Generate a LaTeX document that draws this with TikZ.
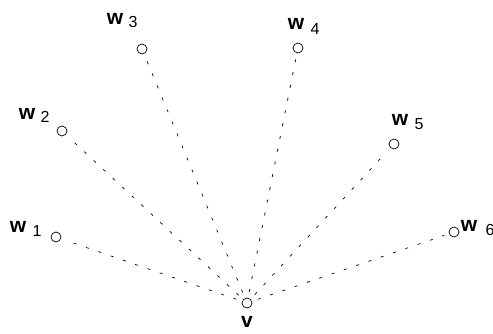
\documentclass[tikz,border=0pt]{standalone}
\usepackage{fontspec}
\setmainfont{Liberation Sans}
\begin{document}
\begin{tikzpicture}[x=1pt,y=-1pt,
  vert/.style={circle,draw,line width=0.7pt,minimum size=10pt,inner sep=0pt},
  edge/.style={line width=0.7pt,dash pattern=on 3pt off 10pt},
  wl/.style={font=\fontsize{21}{21}\selectfont\bfseries,inner sep=0pt},
  sl/.style={font=\fontsize{16}{16}\selectfont,inner sep=0pt}]
\useasboundingbox (0,0) rectangle (493,334);
\node[vert] (v) at (247,303) {};
\node[vert] (w1) at (56,237) {};
\node[vert] (w2) at (62,131) {};
\node[vert] (w3) at (142,49) {};
\node[vert] (w4) at (298,48) {};
\node[vert] (w5) at (394,144) {};
\node[vert] (w6) at (454,232) {};
\node[wl] (lv) at (247,322) {v};
\node[wl] (lw1) at (18,227) {w};
\node[sl] (s1) at (37,231) {1};
\node[wl] (lw2) at (27,114) {w};
\node[sl] (s2) at (45,117) {2};
\node[wl] (lw3) at (115,19) {w};
\node[sl] (s3) at (133,22) {3};
\node[wl] (lw4) at (296,24) {w};
\node[sl] (s4) at (315,29) {4};
\node[wl] (lw5) at (400,120) {w};
\node[sl] (s5) at (419,124) {5};
\node[wl] (lw6) at (469,226) {w};
\node[sl] (s6) at (490,230) {6};
\foreach \w in {w1,w2,w3,w4,w5,w6}
  \draw[edge,shorten <=6pt,shorten >=5pt] (v) -- (\w);
\end{tikzpicture}
\end{document}
